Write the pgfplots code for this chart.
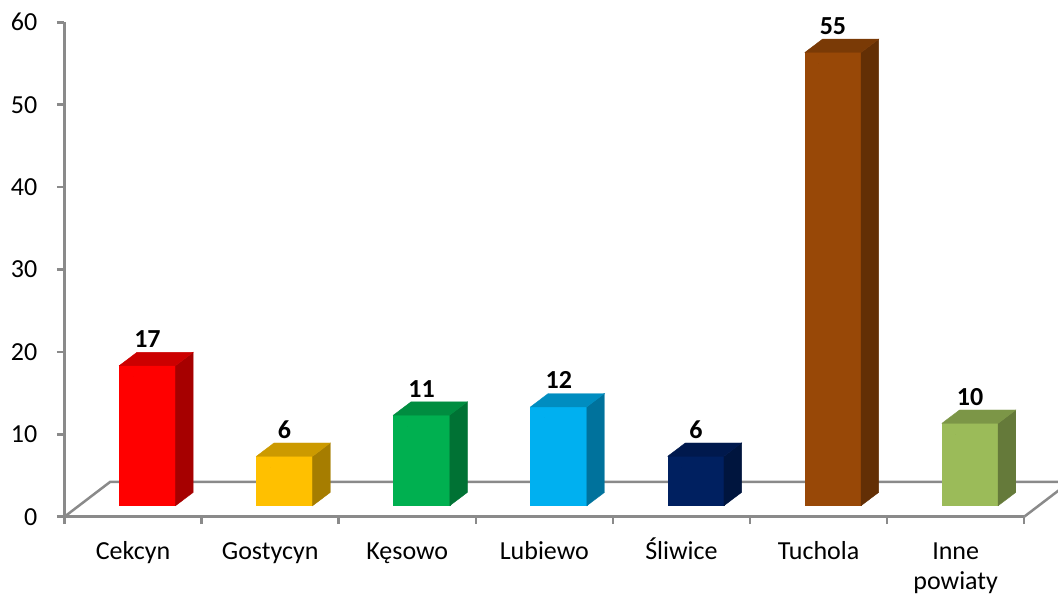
\documentclass[border=0pt]{standalone}
\usepackage{fontspec}
\setmainfont{Carlito}
\usepackage{pgfplots}
\pgfplotsset{compat=1.18}

\definecolor{axgray}{HTML}{8A8A8A}
\definecolor{cA}{HTML}{FF0000}
\definecolor{cB}{HTML}{FFC000}
\definecolor{cC}{HTML}{00B050}
\definecolor{cD}{HTML}{00B0F0}
\definecolor{cE}{HTML}{002060}
\definecolor{cF}{HTML}{984807}
\definecolor{cG}{HTML}{9BBB59}

% 3D-looking column drawn at each data point (front, side, top, value)
\pgfplotsset{
  bar3d/.style={
    only marks, scatter, mark=*, mark size=0pt,
    mark options={draw=none,fill=none},
    visualization depends on={rawy \as \barval},
    scatter/@pre marker code/.code={%
      \pgfmathsetmacro\bbot{11-\barval*8.24}%
      \pgfmathsetmacro\bbotb{\bbot+13.3}%
      \fill[#1] (-13.7pt,\bbot pt) rectangle (42.5pt,11pt);
      \fill[#1!65!black] (42.5pt,\bbot pt) -- (60.1pt,\bbotb pt) -- (60.1pt,24.3pt) -- (42.5pt,11pt) -- cycle;
      \fill[#1!80!black] (-13.7pt,11pt) -- (3.9pt,24.3pt) -- (60.1pt,24.3pt) -- (42.5pt,11pt) -- cycle;
      \node[font=\fontsize{26}{30}\selectfont\bfseries, anchor=base, inner sep=0pt, text=black]
        at (14.4pt,29pt) {\pgfmathprintnumber{\barval}};
    },
    scatter/@post marker code/.code={},
  },
}

\begin{document}
\begin{tikzpicture}
\useasboundingbox (0,0) rectangle (1058pt,596pt);
\begin{axis}[
  at={(64.5pt,79.3pt)}, anchor=south west,
  x=137.1pt, y=8.24pt,
  xmin=0, xmax=7, ymin=0, ymax=60,
  clip=false,
  axis x line*=bottom, axis y line*=left,
  axis line style={axgray, line width=2.5pt},
  tick align=outside, major tick length=7.5pt,
  tick style={axgray, line width=2.5pt},
  /pgf/number format/assume math mode=true,
  ytick={0,10,...,60},
  yticklabel style={font=\fontsize{26}{30}\selectfont, anchor=east, inner sep=0pt, xshift=-19.5pt},
  xtick={0,...,7}, xticklabels={},
  extra x ticks={0.5,1.5,...,6.5},
  extra x tick labels={Cekcyn,Gostycyn,Kęsowo,Lubiewo,Śliwice,Tuchola,
    {\begin{tabular}[t]{@{}c@{}}Inne\\powiaty\end{tabular}}},
  extra x tick style={major tick length=0pt,
    xticklabel style={font=\fontsize{26}{29.5}\selectfont, anchor=base, inner sep=0pt, yshift=-43pt}},
]
% floor
\draw[axgray, line width=2.5pt] (axis cs:0,0) -- ([shift={(45.5pt,34.7pt)}]axis cs:0,0)
  -- ([shift={(45.5pt,34.7pt)}]axis cs:7,0) -- (axis cs:7,0);

\addplot[bar3d=cA] coordinates {(0.5,17)};
\addplot[bar3d=cB] coordinates {(1.5,6)};
\addplot[bar3d=cC] coordinates {(2.5,11)};
\addplot[bar3d=cD] coordinates {(3.5,12)};
\addplot[bar3d=cE] coordinates {(4.5,6)};
\addplot[bar3d=cF] coordinates {(5.5,55)};
\addplot[bar3d=cG] coordinates {(6.5,10)};
\end{axis}
\end{tikzpicture}
\end{document}
